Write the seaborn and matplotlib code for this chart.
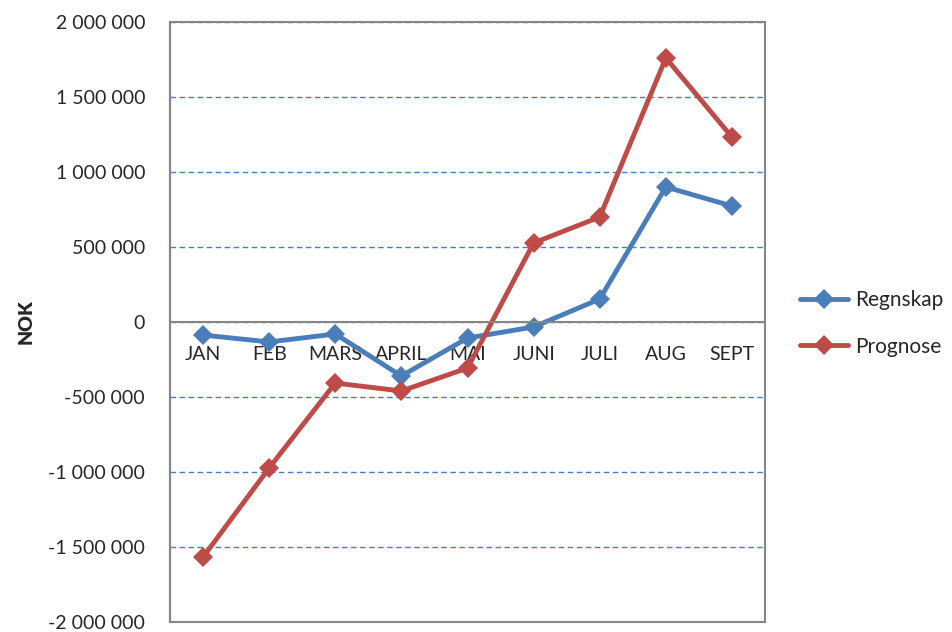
import pandas as pd
import seaborn as sns
import matplotlib.pyplot as plt
from matplotlib.patches import Rectangle

months = ['JAN', 'FEB', 'MARS', 'APRIL', 'MAI', 'JUNI', 'JULI', 'AUG', 'SEPT']
regnskap = [-87000, -133000, -80000, -360000, -107000, -33000, 153000, 900000, 773000]
prognose = [-1567000, -973000, -407000, -460000, -307000, 527000, 700000, 1760000, 1233000]
series_names = ['Regnskap', 'Prognose']
y_ticks = [-2000000, -1500000, -1000000, -500000, 0, 500000, 1000000, 1500000, 2000000]
y_tick_labels = ['-2 000 000', '-1 500 000', '-1 000 000', '-500 000', '0',
                 '500 000', '1 000 000', '1 500 000', '2 000 000']

df = pd.DataFrame({
    'month': months * 2,
    'value': regnskap + prognose,
    'serie': [series_names[0]] * len(months) + [series_names[1]] * len(months),
})

sns.set_style('white')
plt.rcParams['font.family'] = ['Lato', 'DejaVu Sans']

blue = '#4A7EBB'
red = '#BE4B48'
axis_grey = '#868686'

fig = plt.figure(figsize=(9.52, 6.32), dpi=100)
ax = fig.add_axes([170 / 952, 10 / 632, 595 / 952, 600 / 632])

sns.lineplot(
    data=df, x='month', y='value', hue='serie', style='serie',
    palette=[blue, red], markers=['D', 'D'], dashes=False,
    linewidth=3.5, markersize=10.5, markeredgewidth=0, sort=False, ax=ax,
)

ax.set_xlim(-0.5, len(months) - 0.5)
ax.set_ylim(-2000000, 2000000)
ax.set_yticks(y_ticks)
ax.set_yticklabels(y_tick_labels, fontsize=14)
ax.set_xlabel('')
ax.set_ylabel('NOK', fontsize=14, fontweight='heavy', labelpad=10)

# category axis crosses at zero
ax.spines['bottom'].set_position(('data', 0))
for s in ['top', 'right']:
    ax.spines[s].set_visible(False)
for s in ['bottom', 'left']:
    ax.spines[s].set_color(axis_grey)
    ax.spines[s].set_linewidth(1.5)
ax.tick_params(axis='x', length=0, pad=17, labelsize=14)
ax.tick_params(axis='y', length=5, width=1, color=axis_grey, direction='out', pad=13)

ax.yaxis.grid(True, color=blue, linewidth=1, linestyle=(0, (4, 2.5)))
ax.xaxis.grid(False)
ax.set_axisbelow(True)
ax.add_patch(Rectangle((0, 0), 1, 1, transform=ax.transAxes, fill=False,
                       edgecolor=axis_grey, linewidth=1.5, zorder=1.5, clip_on=False))

leg = ax.legend(loc='center left', bbox_to_anchor=(800 / 952, (632 - 323.5) / 632),
                bbox_transform=fig.transFigure, frameon=False, fontsize=15,
                labelspacing=1.25, handlelength=2.3, handletextpad=0.35,
                borderpad=0, borderaxespad=0)
for line in leg.get_lines():
    line.set_linewidth(3.5)

fig.savefig('out.png', dpi=100)
